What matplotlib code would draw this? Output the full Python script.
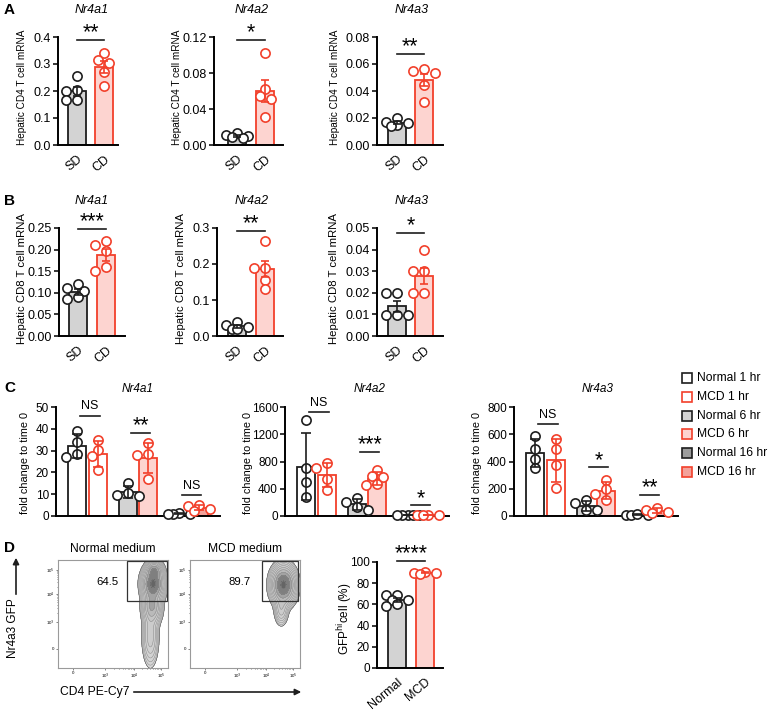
import numpy as np
import matplotlib
matplotlib.use('Agg')
import matplotlib.pyplot as plt
from matplotlib.patches import Rectangle, FancyArrowPatch

plt.rcParams['font.family'] = ['Liberation Sans', 'DejaVu Sans']

# ---------------- DATA ----------------
genes = ['Nr4a1', 'Nr4a2', 'Nr4a3']
ab_groups = ['SD', 'CD']

A_sd = [[0.255, 0.205, 0.200, 0.168, 0.166],
        [0.013, 0.0115, 0.010, 0.009, 0.0075],
        [0.020, 0.017, 0.0165, 0.0145, 0.014]]
A_cd = [[0.341, 0.316, 0.302, 0.271, 0.218],
        [0.102, 0.062, 0.054, 0.051, 0.031],
        [0.056, 0.0546, 0.053, 0.0448, 0.032]]
A_ymax = [0.4, 0.12, 0.08]
A_ystep = [0.1, 0.04, 0.02]
A_dec = [1, 2, 2]
A_sig = ['**', '*', '**']
A_sigy = [0.39, 0.117, 0.0677]
A_ylabel = 'Hepatic CD4 T cell mRNA'

B_sd = [[0.12, 0.11, 0.105, 0.09, 0.085],
        [0.039, 0.03, 0.025, 0.02, 0.02],
        [0.02, 0.02, 0.0096, 0.0096, 0.0096]]
B_cd = [[0.22, 0.21, 0.196, 0.16, 0.15],
        [0.263, 0.19, 0.19, 0.155, 0.13],
        [0.0398, 0.030, 0.030, 0.0197, 0.0197]]
B_ymax = [0.25, 0.3, 0.05]
B_ystep = [0.05, 0.1, 0.01]
B_dec = [2, 1, 2]
B_sig = ['***', '**', '*']
B_sigy = [0.248, 0.293, 0.0477]
B_ylabel = 'Hepatic CD8 T cell mRNA'

C_series = ['Normal 1 hr', 'MCD 1 hr', 'Normal 6 hr', 'MCD 6 hr', 'Normal 16 hr', 'MCD 16 hr']
C1_pts = [[39, 34, 28.5, 27], [35, 30.5, 27.5, 21], [15, 10.5, 9.5, 9],
          [33.5, 28.5, 28, 17], [1.4, 1.0, 0.9, 1.1], [5.2, 4.5, 3.0, 2.5]]
C2_pts = [[1413, 700, 500, 280], [775, 700, 550, 380], [260, 200, 130, 90],
          [670, 580, 575, 470, 450], [12, 10, 8, 9, 11], [20, 18, 15, 16]]
C3_pts = [[590, 490, 415, 350], [565, 490, 375, 205], [118, 95, 42, 45],
          [265, 195, 165, 120], [10, 8, 12, 9], [60, 45, 30, 25]]
C_pts = [C1_pts, C2_pts, C3_pts]
C_ymax = [50, 1600, 800]
C_ystep = [10, 400, 200]
C_sig = [['NS', '**', 'NS'], ['NS', '***', '*'], ['NS', '*', '**']]
C_sigy = [[46, 38.3, 9.5], [1527, 945, 158], [675, 357, 153]]
C_ylabels = ['fold change to time 0', 'fold change to time 0', 'fold chnage to time 0']

D_groups = ['Normal', 'MCD']
D_pts = [[69, 69, 64, 64, 60, 58.5], [91, 90, 90, 89]]
D_sig = '****'
D_sigy = 101
D_titles = ['Normal medium', 'MCD medium']
D_gate_pct = ['64.5', '89.7']
flow_tick_labels = ['0', '10$^3$', '10$^4$', '10$^5$']
# gaussian-mixture description of the flow populations (centre x, centre y, sx, sy, weight), frame units
flow_pops = [
    [(0.865, 0.78, 0.045, 0.07, 1.0), (0.875, 0.90, 0.035, 0.04, 0.5),
     (0.855, 0.58, 0.04, 0.08, 0.4), (0.84, 0.30, 0.035, 0.13, 0.12)],
    [(0.85, 0.77, 0.05, 0.08, 1.0), (0.83, 0.55, 0.03, 0.07, 0.12)],
]

# ---------------- STYLE ----------------
W, H = 768, 712
RED = '#f2402b'
BLACK = '#1e1e1e'
GREY = '#d3d3d3'
PINK = '#fdd4d0'
GREY16 = '#9c9c9c'
PINK16 = '#f3a29b'
C_face = ['white', 'white', GREY, PINK, GREY16, PINK16]
C_edge = [BLACK, RED, BLACK, RED, BLACK, RED]

fig = plt.figure(figsize=(W / 100, H / 100), dpi=100)


def add_ax(left, top, right, bottom):
    return fig.add_axes([left / W, 1 - bottom / H, (right - left) / W, (bottom - top) / H])


def ftext(x, y, s, **kw):
    fig.text(x / W, 1 - y / H, s, **kw)


def style(ax, labelsize=9):
    for s in ['top', 'right']:
        ax.spines[s].set_visible(False)
    for s in ['left', 'bottom']:
        ax.spines[s].set_linewidth(1.4)
        ax.spines[s].set_color('black')
    ax.tick_params(axis='y', length=3.5, width=1.1, labelsize=labelsize, pad=1.5, color='black')
    ax.tick_params(axis='x', length=0, labelsize=9, pad=6)


def swarm(vals, px_x, px_y, diam=10.0):
    placed = []
    res = np.zeros(len(vals))
    order = np.argsort(vals)[::-1]
    step = diam * 0.55
    cands = [0.0, -step, step, -2 * step, 2 * step]
    for i in order:
        y = vals[i] * px_y
        best, bestd = 0.0, -1
        for c in cands:
            dmin = min([np.hypot(c - px, y - py) for px, py in placed] + [1e9])
            if dmin >= diam * 0.8:
                best = c
                break
            if dmin > bestd:
                best, bestd = c, dmin
        placed.append((best, y))
        res[i] = best / px_x
    return res


def bar_group(ax, positions, pts_list, faces, edges, width, px_x, px_y, err='sem', capsize=3.2):
    for pos, pts, fc, ec in zip(positions, pts_list, faces, edges):
        pts = np.asarray(pts, float)
        m = pts.mean()
        sd = pts.std(ddof=1)
        e = sd / np.sqrt(len(pts)) if err == 'sem' else sd
        ax.bar(pos, m, width=width, color=fc, edgecolor=ec, linewidth=1.3, zorder=2)
        offs = swarm(pts, px_x, px_y)
        ax.scatter(pos + offs, pts, s=44, facecolor='white', edgecolor=ec, linewidth=1.2,
                   zorder=3, clip_on=False)
        ax.errorbar(pos, m, yerr=e, fmt='none', ecolor=ec, elinewidth=1.2, capsize=capsize,
                    capthick=1.2, zorder=4)


def sig(ax, x0, x1, y, s):
    ax.plot([x0, x1], [y, y], color=BLACK, lw=1.2, clip_on=False, zorder=5)
    if s == 'NS':
        ax.annotate(s, ((x0 + x1) / 2, y), xytext=(0, 2.5), textcoords='offset points',
                    ha='center', va='bottom', fontsize=9, annotation_clip=False)
    else:
        ax.annotate(s, ((x0 + x1) / 2, y), xytext=(0, -2.5), textcoords='offset points',
                    ha='center', va='bottom', fontsize=15.5, annotation_clip=False)


# ---------------- PANELS A & B ----------------
A_layout = [(58, 118, 77, 104), (214, 283, 237, 265), (377, 443, 396.5, 424)]
B_layout = [(59, 125, 78, 106), (217, 283, 237, 265), (377, 443, 397, 424)]
A_title_x = [92, 252, 412]
A_ylab_x = [22, 177, 335]
B_ylab_x = [22, 181, 334]

for (sd_l, cd_l, ymax, ystep, dec, sg, sgy, layout, top, bot, ylab, ylx, ylfs, ty) in [
        (A_sd, A_cd, A_ymax, A_ystep, A_dec, A_sig, A_sigy, A_layout, 37, 145, A_ylabel, A_ylab_x, 7.2, 10),
        (B_sd, B_cd, B_ymax, B_ystep, B_dec, B_sig, B_sigy, B_layout, 228, 336, B_ylabel, B_ylab_x, 8.2, 201)]:
    for i in range(3):
        left, right, xsd, xcd = layout[i]
        unit = xcd - xsd
        ax = add_ax(left, top, right, bot)
        style(ax)
        ax.set_xlim((left - xsd) / unit, 1 + (right - xcd) / unit)
        ax.set_ylim(0, ymax[i])
        px_y = (bot - top) / ymax[i]
        bar_group(ax, [0, 1], [sd_l[i], cd_l[i]], [GREY, PINK], [BLACK, RED], 18 / unit, unit, px_y)
        ticks = np.arange(0, ymax[i] + ystep[i] / 2, ystep[i])
        ax.set_yticks(ticks)
        ax.set_yticklabels([f'{t:.{dec[i]}f}' for t in ticks])
        ax.set_xticks([0, 1])
        ax.set_xticklabels(ab_groups, rotation=40, ha='right', va='top', rotation_mode='anchor')
        sig(ax, 0, 1, sgy[i], sg[i])
        ftext(A_title_x[i], ty, genes[i], ha='center', va='center', fontsize=9, style='italic')
        ftext(ylx[i], (top + bot) / 2 - 4, ylab, ha='center', va='center', rotation=90, fontsize=ylfs)

# ---------------- PANEL C ----------------
C_left = [56, 285, 514]
C_title_x = [138, 370, 598]
C_ylab_x = [25, 248, 477]
C_top, C_bot = 407, 516
C_unit = 20.3
C_pos = [0, 1, 2.5, 3.5, 5, 6]
C_xlim = (-1.05, 7.05)
for i in range(3):
    left = C_left[i]
    right = left + (C_xlim[1] - C_xlim[0]) * C_unit
    ax = add_ax(left, C_top, right, C_bot)
    style(ax, labelsize=8.5)
    ax.set_xlim(*C_xlim)
    ax.set_ylim(0, C_ymax[i])
    px_y = (C_bot - C_top) / C_ymax[i]
    bar_group(ax, C_pos, C_pts[i], C_face, C_edge, 0.88, C_unit, px_y, err='sd', capsize=3.6)
    ax.set_yticks(np.arange(0, C_ymax[i] + 1, C_ystep[i]))
    ax.set_xticks([])
    for g in range(3):
        sig(ax, C_pos[2 * g] + 0.15, C_pos[2 * g + 1] + 0.1, C_sigy[i][g], C_sig[i][g])
    ftext(C_title_x[i], 389, genes[i], ha='center', va='center', fontsize=8.5, style='italic')
    ftext(C_ylab_x[i], 463, C_ylabels[i], ha='center', va='center', rotation=90, fontsize=7.8)

# legend
for k, name in enumerate(C_series):
    yc = 378 + 18.8 * k
    fig.add_artist(Rectangle((682 / W, 1 - (yc + 5) / H), 10 / W, 10 / H, transform=fig.transFigure,
                             facecolor=C_face[k], edgecolor=C_edge[k], linewidth=1.2))
    ftext(697, yc, name, ha='left', va='center', fontsize=8.7)

# ---------------- PANEL D : flow plots ----------------
flow_rects = [(58, 560, 168, 668), (190, 560, 300, 668)]
flow_tick_pos = [0.14, 0.43, 0.69, 0.935]
flow_ytick_pos = [0.18, 0.43, 0.685, 0.91]
gates = [(0.63, 0.62, 0.365, 0.37), (0.65, 0.62, 0.33, 0.37)]
gate_txt = [(0.45, 0.80), (0.45, 0.80)]
xg, yg = np.meshgrid(np.linspace(0, 1, 300), np.linspace(0, 1, 300))
for j in range(2):
    ax = add_ax(*flow_rects[j])
    ax.set_xlim(0, 1)
    ax.set_ylim(0, 1)
    for s in ax.spines.values():
        s.set_color('#9a9a9a')
        s.set_linewidth(0.8)
    dens = np.zeros_like(xg)
    for (cx, cy, sx, sy, w) in flow_pops[j]:
        dens += w * np.exp(-0.5 * (((xg - cx) / sx) ** 2 + ((yg - cy) / sy) ** 2))
    dens /= dens.max()
    lv = np.geomspace(0.008, 0.9, 11)
    ax.contourf(xg, yg, dens, levels=np.r_[lv, 1.01], cmap='Greys', vmin=-0.6, vmax=1.7)
    cols = ['#2e2e2e'] + ['#8a8a8a'] * (len(lv) - 1)
    ax.contour(xg, yg, dens, levels=lv, colors=cols, linewidths=0.35)
    gx, gy, gw, gh = gates[j]
    ax.add_patch(Rectangle((gx, gy), gw, gh, fill=False, edgecolor='#333333', linewidth=0.9, zorder=5))
    ax.text(*gate_txt[j], D_gate_pct[j], ha='center', va='center', fontsize=8.2)
    ax.set_xticks(flow_tick_pos)
    ax.set_xticklabels(flow_tick_labels)
    ax.set_yticks(flow_ytick_pos)
    ax.set_yticklabels(flow_tick_labels)
    minors_x, minors_y = [], []
    for a, b in [(flow_tick_pos[1], flow_tick_pos[2]), (flow_tick_pos[2], flow_tick_pos[3])]:
        minors_x += [a + (b - a) * np.log10(k) for k in range(2, 10)]
    for a, b in [(flow_ytick_pos[1], flow_ytick_pos[2]), (flow_ytick_pos[2], flow_ytick_pos[3])]:
        minors_y += [a + (b - a) * np.log10(k) for k in range(2, 10)]
    ax.set_xticks(minors_x, minor=True)
    ax.set_yticks(minors_y, minor=True)
    ax.tick_params(which='both', length=1.5, width=0.5, labelsize=3.2, pad=1, color='#555555')
    ax.tick_params(which='minor', length=1.0)
    ftext((flow_rects[j][0] + flow_rects[j][2]) / 2, 549, D_titles[j], ha='center', va='center', fontsize=8.7)

# axis labels with arrows
ftext(13, 628, 'Nr4a3 GFP', ha='center', va='center', rotation=90, fontsize=8.5)
fig.add_artist(FancyArrowPatch((16 / W, 1 - 597 / H), (16 / W, 1 - 555 / H),
               transform=fig.transFigure, arrowstyle='-|>', mutation_scale=9, linewidth=1.2, color=BLACK))
ftext(60, 692, 'CD4 PE-Cy7', ha='left', va='center', fontsize=8.7)
fig.add_artist(FancyArrowPatch((131 / W, 1 - 692 / H), (304 / W, 1 - 692 / H),
               transform=fig.transFigure, arrowstyle='-|>', mutation_scale=9, linewidth=1.2, color=BLACK))

# ---------------- PANEL D : bar ----------------
left, right, xn, xm = 377, 443, 397, 425
top, bot = 562, 668
unit = xm - xn
ax = add_ax(left, top, right, bot)
style(ax, labelsize=8.5)
ax.set_xlim((left - xn) / unit, 1 + (right - xm) / unit)
ax.set_ylim(0, 100)
bar_group(ax, [0, 1], D_pts, [GREY, PINK], [BLACK, RED], 18 / unit, unit, (bot - top) / 100)
ax.set_yticks(np.arange(0, 101, 20))
ax.set_xticks([0, 1])
ax.set_xticklabels(D_groups, rotation=40, ha='right', va='top', rotation_mode='anchor')
sig(ax, 0, 1, D_sigy, D_sig)
ftext(345, 619, 'GFP$^{\\mathrm{hi}}$cell (%)', ha='center', va='center', rotation=90, fontsize=8.5)

# panel letters
for lab, y in [('A', 10), ('B', 201), ('C', 388), ('D', 548)]:
    ftext(4, y, lab, ha='left', va='center', fontsize=11, fontweight='bold')

fig.savefig('out.png', dpi=100)
